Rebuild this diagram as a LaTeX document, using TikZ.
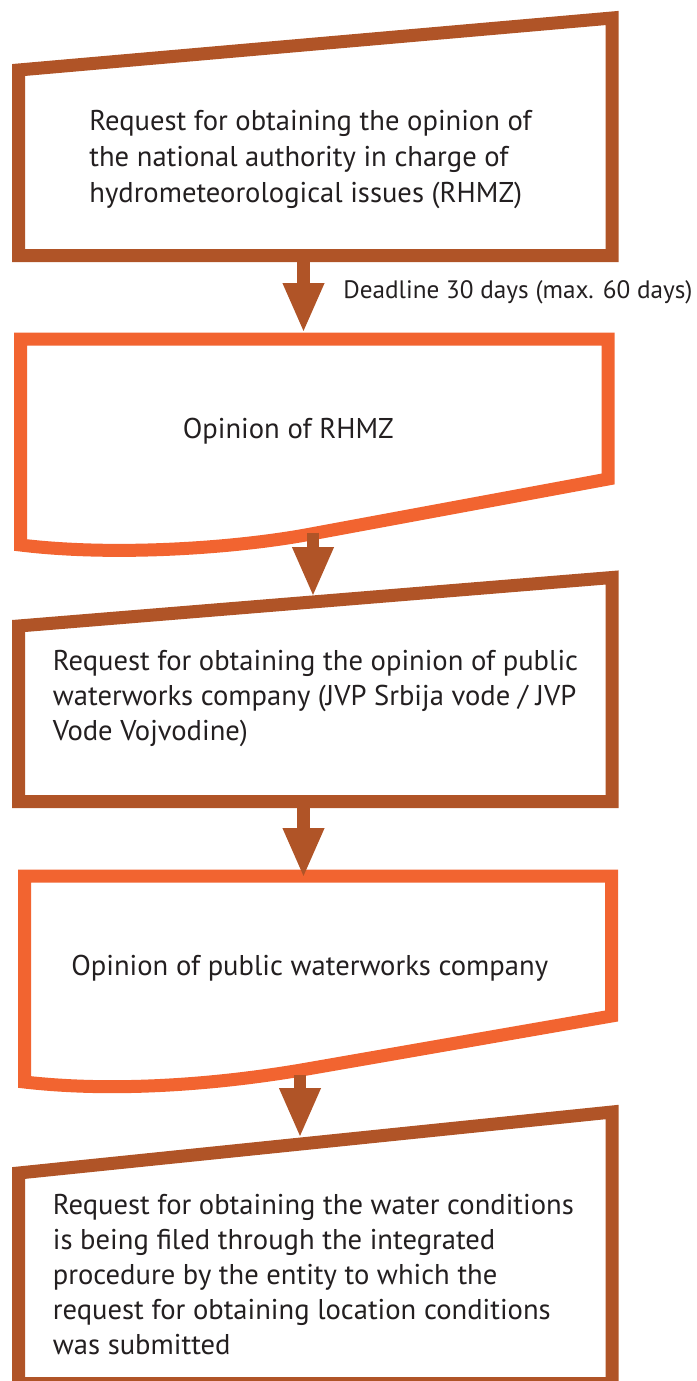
\documentclass[tikz,border=0pt]{standalone}
\usepackage{fontspec}
\setmainfont{PT Sans}
\usepackage{xcolor}
\definecolor{FlowBrown}{HTML}{B05427}
\definecolor{FlowOrange}{HTML}{F26430}
\definecolor{InkGray}{HTML}{231F20}
\usetikzlibrary{arrows.meta}
\begin{document}
\begin{tikzpicture}[x=0.5pt,y=-0.5pt,
manual/.style={draw=FlowBrown,line width=6.5pt,fill=white,miter limit=20},
docbox/.style={draw=FlowOrange,line width=6.5pt,fill=white},
flow/.style={draw=FlowBrown,line width=6.2pt,-{Triangle[width=19pt,length=25pt]}},
txt/.style={anchor=base west,inner sep=0pt,align=left,text=InkGray,font=\fontsize{14.3}{18}\selectfont},
note/.style={anchor=base west,inner sep=0pt,text=InkGray,font=\fontsize{12.6}{14}\selectfont}]
\useasboundingbox (0,0) rectangle (696,1381);
% request to RHMZ
\path[manual] (18.5,70) -- (612,18) -- (612,255.5) -- (18.5,255.5) -- cycle;
\coordinate (rhmzreq-s) at (303.5,255.5);
\node[txt] (rhmzreq) at (89,202) {Request for obtaining the opinion of\\the national authority in charge of\\hydrometeorological issues (RHMZ)};
% opinion of RHMZ
\path[docbox] (20.5,339) -- (608,339) -- (608,479) -- (311,534)
  .. controls (231,549) and (110,556) .. (20.5,545) -- cycle;
\coordinate (rhmzop-n) at (303.5,333);
\coordinate (rhmzop-s) at (313,532.7);
\node[txt] (rhmzop) at (182.5,438) {Opinion of RHMZ};
% request to waterworks company
\path[manual] (18.5,626) -- (612,577.5) -- (612,801.5) -- (18.5,801.5) -- cycle;
\coordinate (jvpreq-n) at (313,597);
\coordinate (jvpreq-s) at (303.5,801.5);
\node[txt,font=\fontsize{14.3}{17.5}\selectfont] (jvpreq) at (52.5,740.5) {Request for obtaining the opinion of public\\waterworks company (JVP Srbija vode / JVP\\Vode Vojvodine)};
% opinion of waterworks company
\path[docbox] (24.5,876) -- (611.5,876) -- (611.5,1016) -- (307,1069)
  .. controls (227,1083) and (120,1093) .. (24.5,1082) -- cycle;
\coordinate (jvpop-n) at (303.5,878);
\coordinate (jvpop-s) at (300,1075);
\node[txt] (jvpop) at (71,975) {Opinion of public waterworks company};
% water conditions request
\path[manual] (18.5,1173) -- (612,1112) -- (612,1383.5) -- (18.5,1383.5) -- cycle;
\coordinate (wcreq-n) at (300,1138);
\node[txt,font=\fontsize{14.3}{17.5}\selectfont] (wcreq) at (52.5,1354) {Request for obtaining the water conditions\\is being filed through the integrated\\procedure by the entity to which the\\request for obtaining location conditions\\was submitted};
\draw[flow] (rhmzreq-s) -- (rhmzop-n);
\draw[flow] (rhmzop-s) -- (jvpreq-n);
\draw[flow] (jvpreq-s) -- (jvpop-n);
\draw[flow] (jvpop-s) -- (wcreq-n);
\node[note] (deadline) at (343,298) {Deadline 30 days (max. 60 days)};
\end{tikzpicture}
\end{document}
